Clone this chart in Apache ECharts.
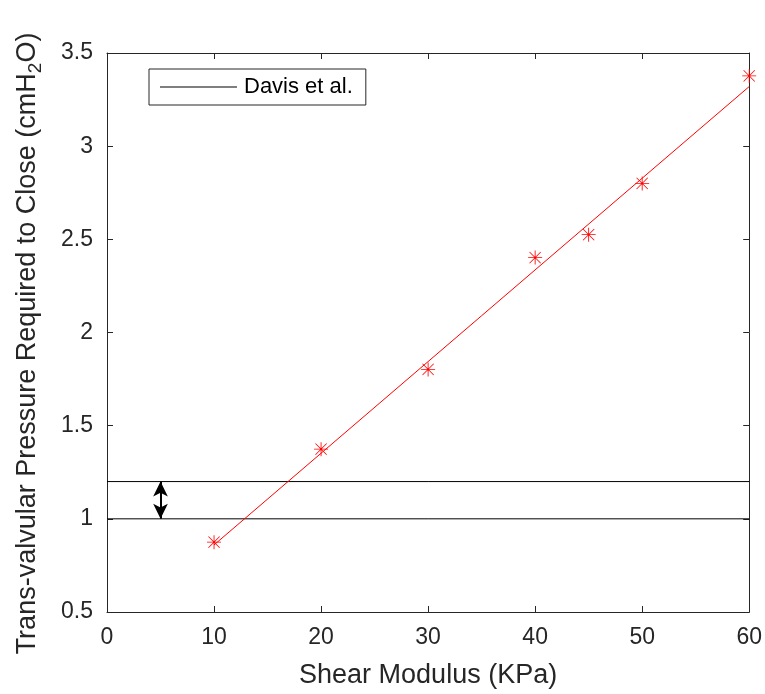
<!DOCTYPE html>
<html>
<head>
<meta charset="utf-8">
<script src="https://cdn.jsdelivr.net/npm/echarts@6/dist/echarts.min.js"></script>
<style>
  html, body { margin: 0; padding: 0; background: #fff; }
  #main { width: 765px; height: 694px; }
</style>
</head>
<body>
<div id="main"></div>
<script>
// measured points
const shearModulus = [10, 20, 30, 40, 45, 50, 60];
const pressure = [0.875, 1.374, 1.802, 2.402, 2.525, 2.8, 3.377];
// fitted line end points
const fitX = [10, 60];
const fitY = [0.86, 3.32];
// Davis et al. band
const davisX = [0, 60];
const davisLow = 1.0;
const davisHigh = 1.2;
const arrowX = 5;

const axisColor = "#262626";
const font = "'Liberation Sans', Arial, Helvetica, sans-serif";

// asterisk marker, like matlab '*'
const star =
  "path://M9.4 0 H10.6 V20 H9.4 Z M0 9.4 H20 V10.6 H0 Z " +
  "M2.4 1.6 L18.4 17.6 L17.6 18.4 L1.6 2.4 Z M17.6 1.6 L18.4 2.4 L2.4 18.4 L1.6 17.6 Z";

var myChart = echarts.init(document.getElementById("main"));

function pairs(xs, ys) {
  return xs.map((x, i) => [x, ys[i]]);
}

var option = {
  animation: false,
  backgroundColor: "#fff",
  textStyle: { fontFamily: font },
  grid: { left: 107, right: 13, top: 53, bottom: 81 },
  legend: {
    left: 149,
    top: 69,
    data: [{ name: "Davis et al.", icon: "rect" }],
    itemWidth: 77,
    itemHeight: 1,
    itemGap: 7,
    padding: [7, 13, 7, 11],
    borderColor: axisColor,
    borderWidth: 1,
    backgroundColor: "#fff",
    textStyle: { fontSize: 22, color: "#000", fontFamily: font, padding: [0, 0, 0, 2] },
  },
  xAxis: [
    {
      type: "value",
      min: 0,
      max: 60,
      interval: 10,
      name: "Shear Modulus (KPa)",
      nameLocation: "middle",
      nameGap: 50,
      nameTextStyle: { fontSize: 27, color: axisColor, fontFamily: font },
      axisLine: { onZero: false, lineStyle: { color: axisColor, width: 1 } },
      axisTick: { inside: true, length: 6, lineStyle: { color: axisColor } },
      axisLabel: { fontSize: 23, color: axisColor, margin: 14, fontFamily: font },
      splitLine: { show: false },
    },
    {
      type: "value",
      position: "top",
      min: 0,
      max: 60,
      interval: 10,
      axisLine: { onZero: false, lineStyle: { color: axisColor, width: 1 } },
      axisTick: { inside: true, length: 6, lineStyle: { color: axisColor } },
      axisLabel: { show: false },
      splitLine: { show: false },
    },
  ],
  yAxis: [
    {
      type: "value",
      min: 0.5,
      max: 3.5,
      interval: 0.5,
      name: "{a|Trans-valvular Pressure Required to Close (cmH}{s|2}{a|O)}",
      nameLocation: "middle",
      nameGap: 62,
      nameTextStyle: {
        color: axisColor,
        padding: [0, 22, 0, 0],
        rich: {
          a: { fontSize: 27, color: axisColor, fontFamily: font, lineHeight: 34, verticalAlign: "middle" },
          s: { fontSize: 19, color: axisColor, fontFamily: font, lineHeight: 34, verticalAlign: "bottom" },
        },
      },
      axisLine: { onZero: false, lineStyle: { color: axisColor, width: 1 } },
      axisTick: { inside: true, length: 6, lineStyle: { color: axisColor } },
      axisLabel: { fontSize: 23, color: axisColor, margin: 14, fontFamily: font },
      splitLine: { show: false },
    },
    {
      type: "value",
      position: "right",
      min: 0.5,
      max: 3.5,
      interval: 0.5,
      axisLine: { onZero: false, lineStyle: { color: axisColor, width: 1 } },
      axisTick: { inside: true, length: 6, lineStyle: { color: axisColor } },
      axisLabel: { show: false },
      splitLine: { show: false },
    },
  ],
  series: [
    {
      name: "Davis et al.",
      type: "line",
      data: davisX.map((x) => [x, davisLow]),
      showSymbol: false,
      symbol: "none",
      lineStyle: { color: "#000", width: 1 },
      itemStyle: { color: "#000" },
      markLine: {
        silent: true,
        symbol: ["arrow", "arrow"],
        symbolSize: [11, 15],
        label: { show: false },
        lineStyle: { color: "#000", width: 2, type: "solid" },
        data: [[{ coord: [arrowX, davisLow] }, { coord: [arrowX, davisHigh] }]],
      },
    },
    {
      name: "Davis et al.",
      type: "line",
      data: davisX.map((x) => [x, davisHigh]),
      showSymbol: false,
      symbol: "none",
      lineStyle: { color: "#000", width: 1 },
      itemStyle: { color: "#000" },
    },
    {
      name: "fit",
      type: "line",
      data: pairs(fitX, fitY),
      showSymbol: false,
      symbol: "none",
      lineStyle: { color: "#ff0000", width: 1 },
    },
    {
      name: "measured",
      type: "scatter",
      data: pairs(shearModulus, pressure),
      symbol: star,
      symbolSize: 14,
      itemStyle: { color: "#ff0000", opacity: 1 },
    },
  ],
};

option && myChart.setOption(option);
</script>
</body>
</html>
